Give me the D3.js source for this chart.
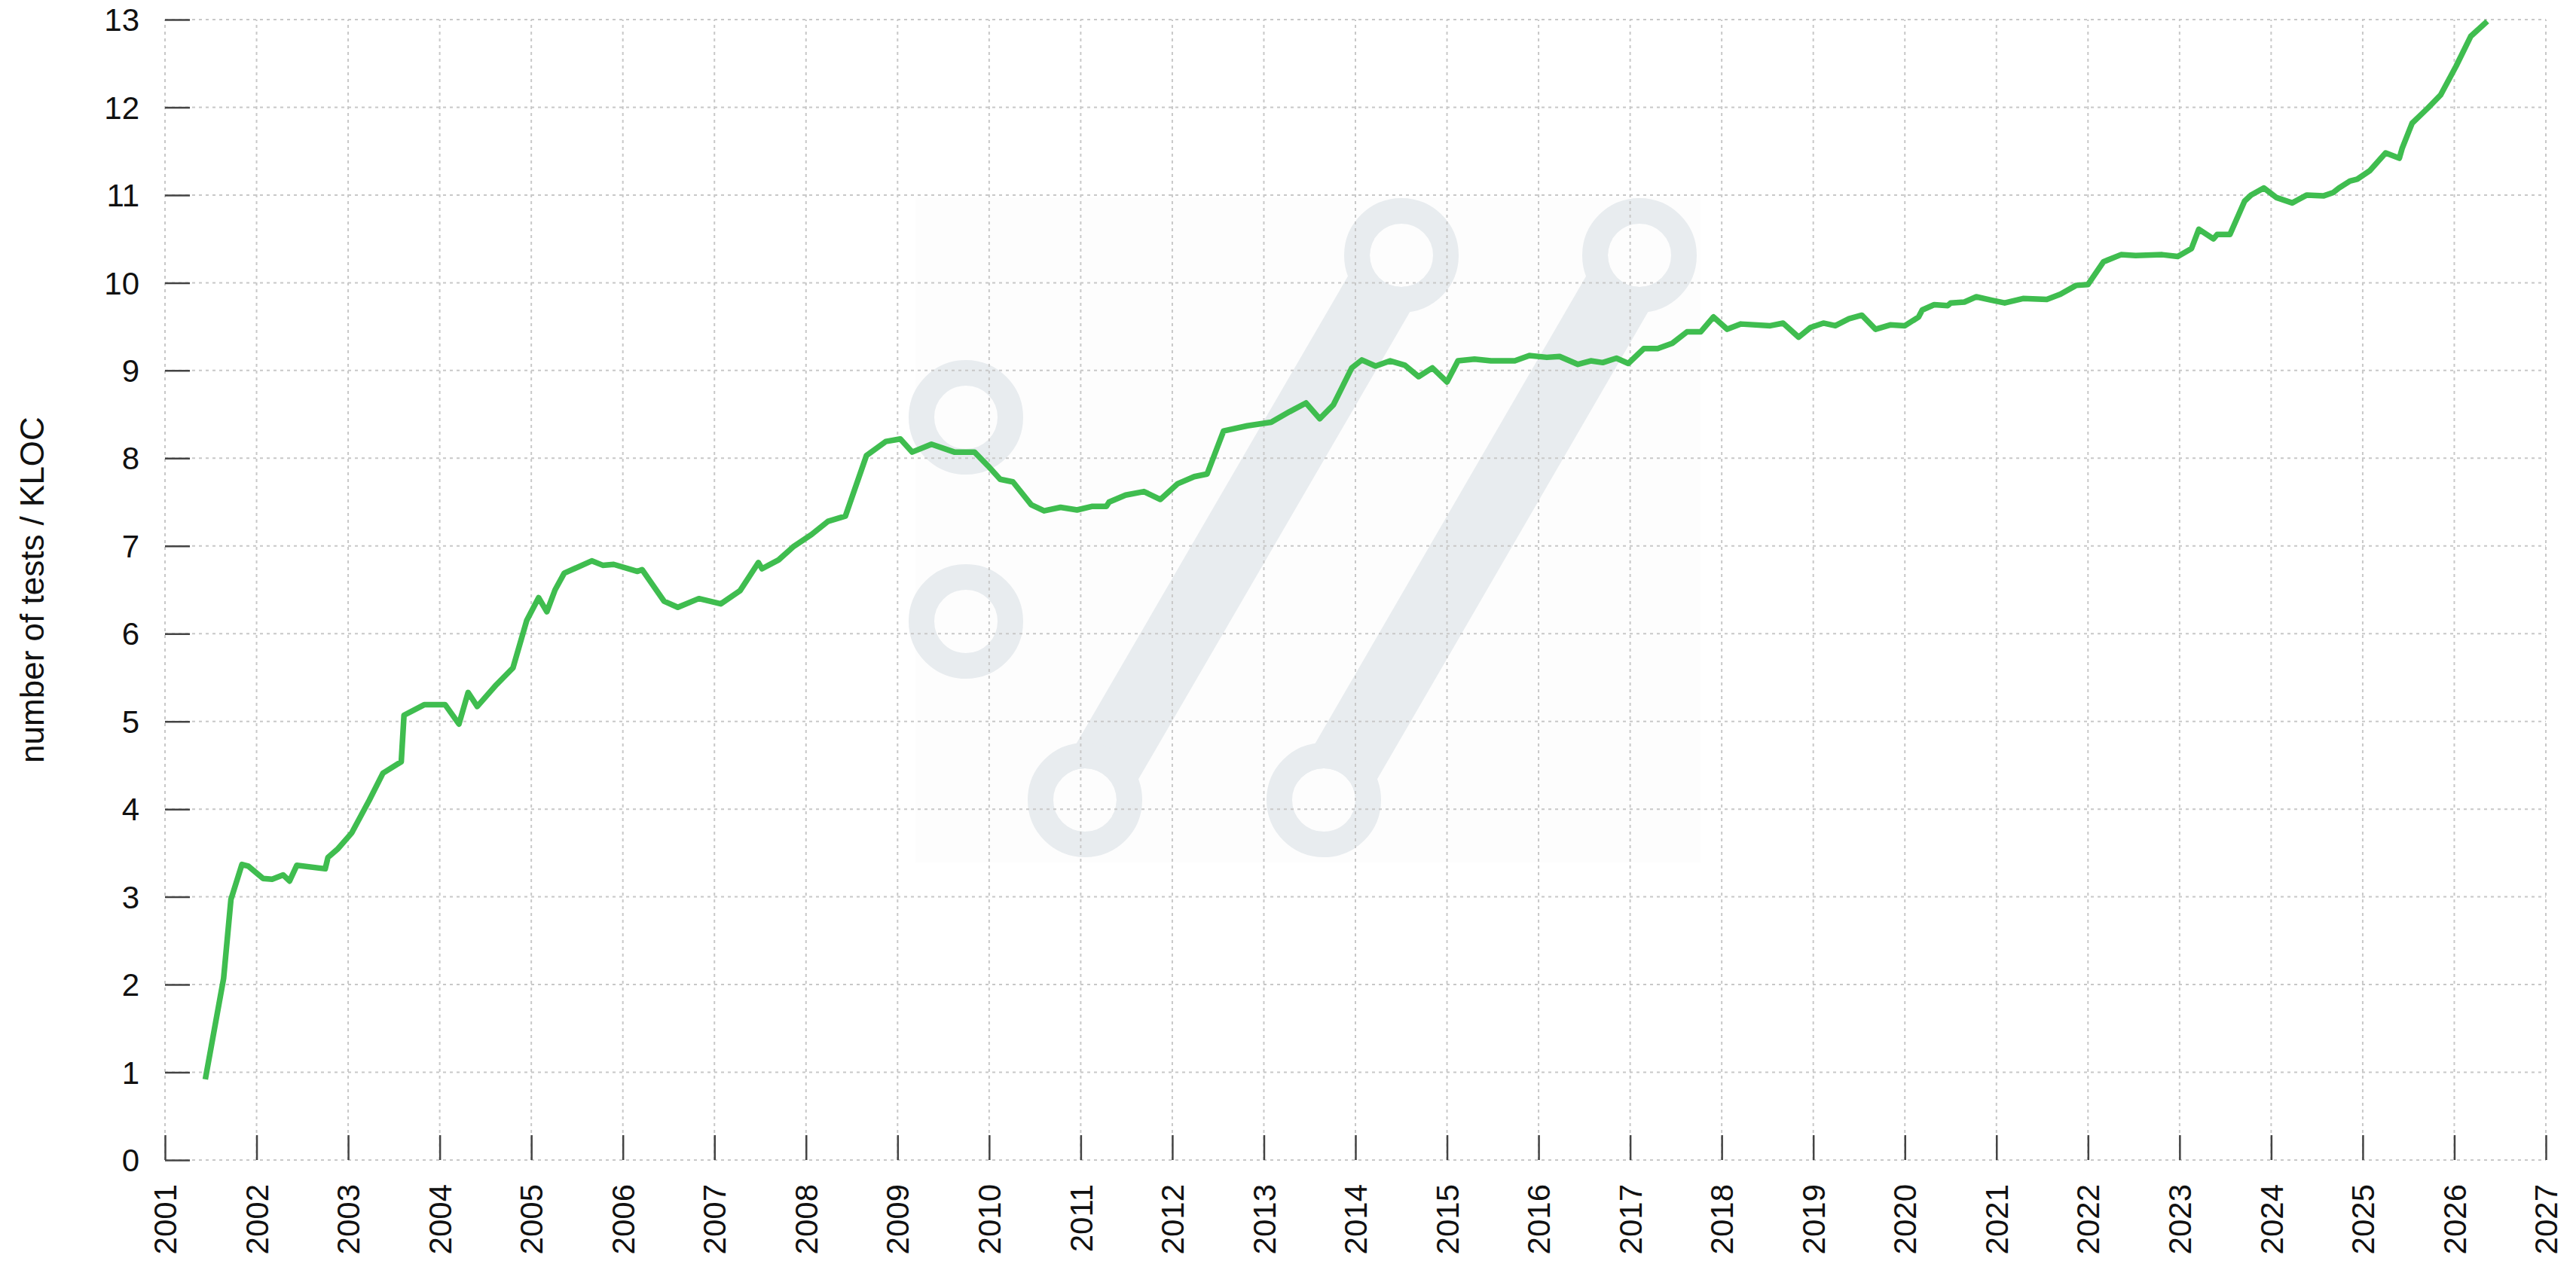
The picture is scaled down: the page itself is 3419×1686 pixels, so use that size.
<!DOCTYPE html>
<html>
<head>
<meta charset="utf-8">
<script src="https://cdn.jsdelivr.net/npm/d3@7"></script>
<style>
  body { margin: 0; background: #fff; }
  svg { display: block; font-family: "Liberation Sans", Arial, sans-serif; }
</style>
</head>
<body>
<div id="chart"></div>
<script>
// data: decimal year -> tests per KLOC
var years = [
  2001.44, 2001.64, 2001.72, 2001.84, 2001.91, 2002.07, 2002.17, 2002.29, 2002.36, 2002.44,
  2002.75, 2002.78, 2002.89, 2003.04, 2003.23, 2003.38, 2003.58, 2003.61, 2003.83, 2004.06,
  2004.21, 2004.31, 2004.41, 2004.62, 2004.80, 2004.95, 2005.08, 2005.17, 2005.26, 2005.36,
  2005.66, 2005.78, 2005.90, 2006.16, 2006.21, 2006.45, 2006.60, 2006.83, 2007.07, 2007.28,
  2007.48, 2007.52, 2007.70, 2007.86, 2008.06, 2008.24, 2008.43, 2008.66, 2008.87, 2009.03,
  2009.16, 2009.37, 2009.62, 2009.84, 2009.99, 2010.12, 2010.26, 2010.46, 2010.60, 2010.78,
  2010.96, 2011.12, 2011.28, 2011.31, 2011.49, 2011.69, 2011.87, 2012.06, 2012.24, 2012.38,
  2012.56, 2012.82, 2013.08, 2013.28, 2013.46, 2013.61, 2013.76, 2013.96, 2014.07, 2014.22,
  2014.38, 2014.54, 2014.69, 2014.84, 2015.00, 2015.12, 2015.30, 2015.48, 2015.74, 2015.90,
  2016.09, 2016.23, 2016.43, 2016.57, 2016.70, 2016.85, 2016.98, 2017.15, 2017.30, 2017.46,
  2017.62, 2017.77, 2017.91, 2018.06, 2018.21, 2018.53, 2018.67, 2018.84, 2018.97, 2019.11,
  2019.24, 2019.39, 2019.53, 2019.68, 2019.84, 2020.00, 2020.15, 2020.19, 2020.32, 2020.47,
  2020.50, 2020.65, 2020.78, 2020.95, 2021.09, 2021.29, 2021.55, 2021.70, 2021.87, 2022.00,
  2022.17, 2022.36, 2022.52, 2022.81, 2022.98, 2023.13, 2023.21, 2023.37, 2023.41, 2023.55,
  2023.71, 2023.78, 2023.92, 2024.06, 2024.23, 2024.39, 2024.57, 2024.68, 2024.74, 2024.86,
  2024.94, 2025.08, 2025.25, 2025.40, 2025.43, 2025.54, 2025.71, 2025.85, 2026.02, 2026.18,
  2026.36
];
var testsPerKloc = [
  0.92, 2.07, 2.97, 3.37, 3.35, 3.21, 3.20, 3.25, 3.18, 3.36,
  3.32, 3.45, 3.55, 3.73, 4.10, 4.41, 4.54, 5.07, 5.19, 5.19,
  4.97, 5.33, 5.17, 5.42, 5.61, 6.15, 6.41, 6.25, 6.50, 6.69,
  6.83, 6.78, 6.79, 6.71, 6.73, 6.37, 6.30, 6.40, 6.34, 6.49,
  6.81, 6.74, 6.84, 6.99, 7.13, 7.28, 7.34, 8.03, 8.19, 8.22,
  8.07, 8.16, 8.07, 8.07, 7.91, 7.76, 7.73, 7.47, 7.40, 7.44,
  7.41, 7.45, 7.45, 7.50, 7.58, 7.62, 7.53, 7.71, 7.79, 7.82,
  8.31, 8.37, 8.41, 8.53, 8.63, 8.45, 8.61, 9.03, 9.12, 9.05,
  9.11, 9.06, 8.93, 9.03, 8.87, 9.11, 9.13, 9.11, 9.11, 9.17,
  9.15, 9.16, 9.07, 9.11, 9.09, 9.14, 9.08, 9.25, 9.25, 9.31,
  9.44, 9.44, 9.61, 9.47, 9.53, 9.51, 9.54, 9.38, 9.49, 9.54,
  9.51, 9.59, 9.63, 9.47, 9.52, 9.51, 9.61, 9.69, 9.75, 9.74,
  9.77, 9.78, 9.84, 9.80, 9.77, 9.82, 9.81, 9.87, 9.97, 9.98,
  10.24, 10.32, 10.31, 10.32, 10.30, 10.39, 10.61, 10.50, 10.55, 10.55,
  10.93, 11.00, 11.08, 10.97, 10.91, 11.00, 10.99, 11.03, 11.08, 11.16,
  11.18, 11.28, 11.48, 11.42, 11.53, 11.82, 11.99, 12.14, 12.47, 12.81,
  12.98
];
var yearTicks = d3.range(2001, 2028);
var valueTicks = d3.range(0, 14);
var axisTitle = "number of tests / KLOC";

var width = 3419, height = 1686;
var margin = { top: 26, right: 40, bottom: 146, left: 219 };
var tickLen = 33;

var dataset = years.map(function (yr, i) {
  return { year: yr, value: testsPerKloc[i] };
});

var xScale = d3.scaleLinear()
  .domain([2001, 2027])
  .range([margin.left, width - margin.right]);

var yScale = d3.scaleLinear()
  .domain([0, 13])
  .range([height - margin.bottom, margin.top]);

var svg = d3.select("#chart").append("svg")
  .attr("width", width)
  .attr("height", height);

// background logo watermark ("://"), drawn behind the grid
var logoColor = "#e8ecef";
var panelColor = "#fdfdfd";
var logo = svg.append("g").attr("transform", "translate(1282,554)");
logo.append("rect")
  .attr("x", -67).attr("y", -292)
  .attr("width", 1042).attr("height", 883)
  .attr("fill", panelColor);

var slashes = [[158, 508, 578, -215], [475, 508, 894, -215]];
slashes.forEach(function (s) {
  logo.append("line")
    .attr("x1", s[0]).attr("y1", s[1])
    .attr("x2", s[2]).attr("y2", s[3])
    .attr("stroke", logoColor)
    .attr("stroke-width", 95);
});
var rings = [[0, 0], [0, 271], [158, 508], [578, -215], [475, 508], [894, -215]];
rings.forEach(function (r) {
  logo.append("circle")
    .attr("cx", r[0]).attr("cy", r[1]).attr("r", 42)
    .attr("fill", panelColor);
  logo.append("circle")
    .attr("cx", r[0]).attr("cy", r[1]).attr("r", 59)
    .attr("fill", "none")
    .attr("stroke", logoColor)
    .attr("stroke-width", 34);
});

// dotted grid
var gridStyle = function (sel) {
  sel.attr("stroke", "#c8c8c8")
    .attr("stroke-width", 2)
    .attr("stroke-dasharray", "4,5");
};
svg.append("g").selectAll("line")
  .data(valueTicks).enter().append("line")
  .attr("x1", xScale(2001)).attr("x2", xScale(2027))
  .attr("y1", d => yScale(d)).attr("y2", d => yScale(d))
  .call(gridStyle);
svg.append("g").selectAll("line")
  .data(yearTicks).enter().append("line")
  .attr("x1", d => xScale(d)).attr("x2", d => xScale(d))
  .attr("y1", yScale(0)).attr("y2", yScale(13))
  .call(gridStyle);

// y axis: ticks pointing into the plot, labels on the left
var yAxis = svg.append("g")
  .attr("transform", "translate(" + xScale(2001) + ",0)")
  .call(d3.axisRight(yScale).tickValues(valueTicks).tickSize(tickLen).tickFormat(""));
yAxis.select(".domain").remove();
yAxis.selectAll(".tick line").attr("stroke", "#444").attr("stroke-width", 2.5);

svg.append("g").selectAll("text")
  .data(valueTicks).enter().append("text")
  .attr("x", 185)
  .attr("y", d => yScale(d))
  .attr("dy", "0.36em")
  .attr("text-anchor", "end")
  .attr("font-size", "42px")
  .attr("fill", "#111")
  .text(d => d);

// x axis: ticks pointing up, rotated year labels
var xAxis = svg.append("g")
  .attr("transform", "translate(0," + yScale(0) + ")")
  .call(d3.axisTop(xScale).tickValues(yearTicks).tickSize(tickLen).tickFormat(""));
xAxis.select(".domain").remove();
xAxis.selectAll(".tick line").attr("stroke", "#444").attr("stroke-width", 2.5);

svg.append("g").selectAll("text")
  .data(yearTicks).enter().append("text")
  .attr("transform", d => "translate(" + xScale(d) + ",1572) rotate(-90)")
  .attr("dy", "0.36em")
  .attr("text-anchor", "end")
  .attr("font-size", "42px")
  .attr("fill", "#111")
  .text(d => d);

// y axis title
svg.append("text")
  .attr("transform", "translate(42," + ((yScale(0) + yScale(13)) / 2) + ") rotate(-90)")
  .attr("dy", "0.36em")
  .attr("text-anchor", "middle")
  .attr("font-size", "44px")
  .attr("fill", "#111")
  .text(axisTitle);

// the series
var line = d3.line()
  .x(d => xScale(d.year))
  .y(d => yScale(d.value));

svg.append("path")
  .datum(dataset)
  .attr("fill", "none")
  .attr("stroke", "#3fbd4f")
  .attr("stroke-width", 7.5)
  .attr("stroke-linejoin", "round")
  .attr("d", line);
</script>
</body>
</html>
